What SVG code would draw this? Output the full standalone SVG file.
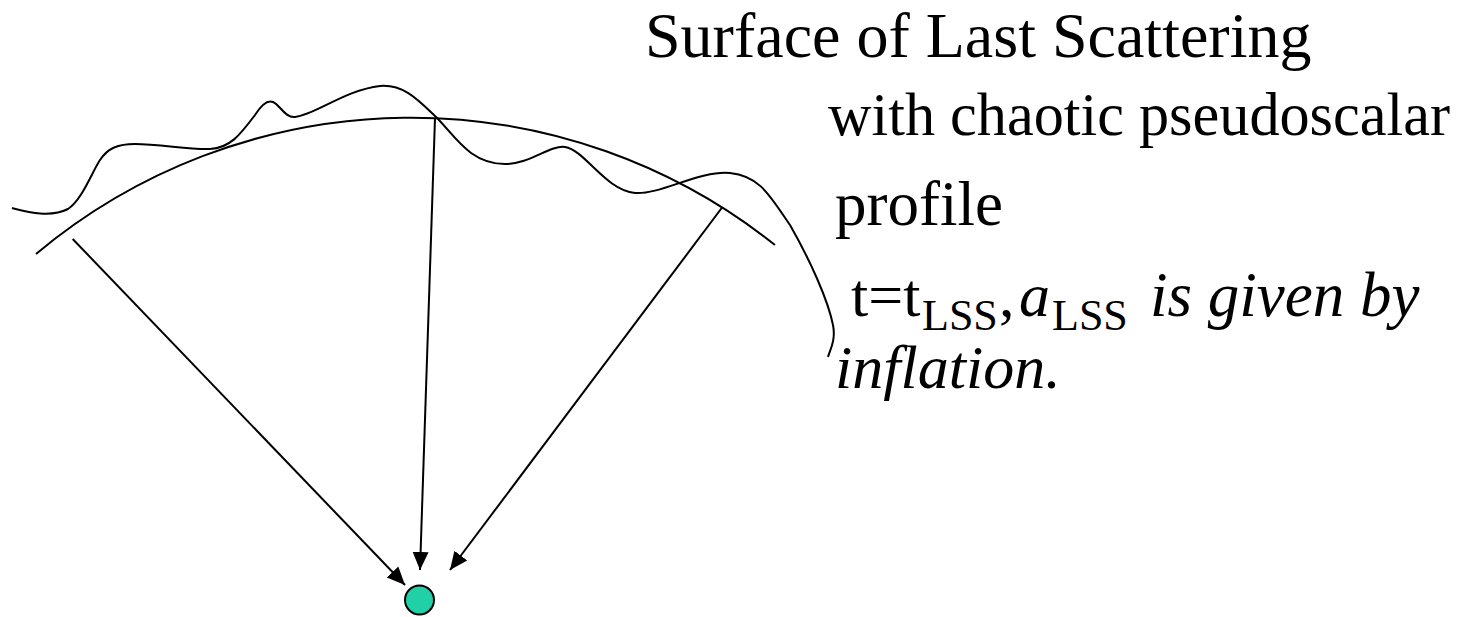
<svg xmlns="http://www.w3.org/2000/svg" width="1472" height="617" viewBox="0 0 1472 617">
<defs>
<style>
.ln{fill:none;stroke:#000;stroke-width:2;stroke-linecap:butt}
.t{font-family:"Liberation Serif","Times New Roman",serif;fill:#000}
.i{font-style:italic}
</style>
<marker id="ah" markerUnits="userSpaceOnUse" markerWidth="20" markerHeight="18" refX="18" refY="8" orient="auto" viewBox="0 0 20 16">
<path d="M0,0 L18,8 L0,16 Z" fill="#000"/>
</marker>
</defs>
<rect width="1472" height="617" fill="#fff"/>
<g id="surface">
<path class="ln" d="M36,254 A584,584 0 0,1 775,245"/>
</g>
<g id="profile-curve">
<path class="ln" d="M12,208 C28,212 50,218 68,209 C82,200 92,172 100,160 C108,148 118,144 135,144 C160,144 190,150 210,149 C230,148 240,135 255,115 C262,104 268,100 273,102 C280,105 285,118 295,117 C315,115 345,90 380,86 C405,84 420,102 437,118 C455,136 470,164 505,164 C530,164 550,145 565,147 C585,150 605,190 635,193 C660,195 700,170 730,173 C760,176 770,196 790,225 C810,260 828,300 833,325 C836,340 830,350 828,357"/>
</g>
<g id="connectors">
<line class="ln" x1="72.7" y1="239" x2="405" y2="585" marker-end="url(#ah)"/>
<line class="ln" x1="435" y1="118" x2="420" y2="570" marker-end="url(#ah)"/>
<line class="ln" x1="721.7" y1="208" x2="450" y2="570" marker-end="url(#ah)"/>
</g>
<g id="observer">
<circle cx="419.5" cy="600" r="14.5" fill="#22D0A8" stroke="#000" stroke-width="2"/>
</g>
<g id="label">
<text class="t" x="645" y="57" font-size="64">Surface of Last Scattering</text>
<text class="t" x="828" y="135" font-size="62" textLength="622" lengthAdjust="spacingAndGlyphs">with chaotic pseudoscalar</text>
<text class="t" x="835" y="225" font-size="63">profile</text>
<text class="t" y="316" font-size="62"><tspan x="851">t=t</tspan><tspan x="922" y="330" font-size="44">LSS</tspan><tspan x="999" y="316">,</tspan><tspan class="i" x="1019">a</tspan><tspan x="1052" y="330" font-size="44">LSS</tspan><tspan class="i" x="1150" y="316" font-size="63">is given by</tspan></text>
<text class="t i" x="835" y="388" font-size="62">inflation.</text>
</g>
</svg>
